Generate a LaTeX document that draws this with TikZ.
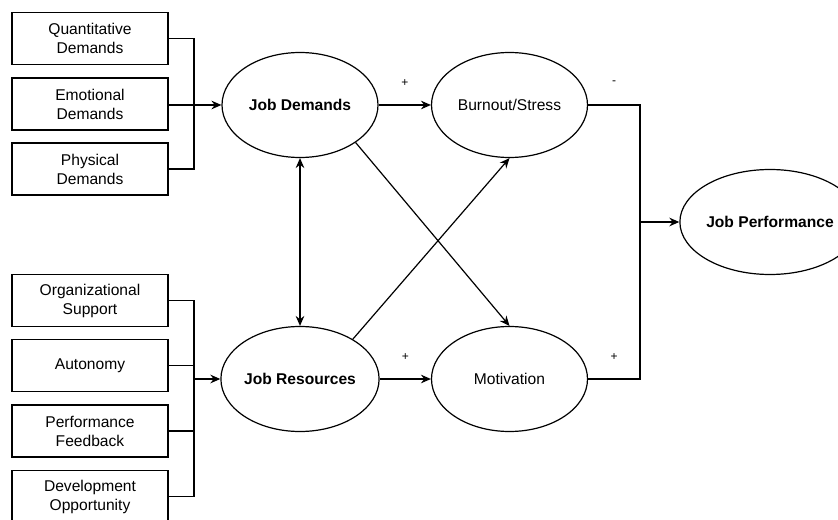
\documentclass[tikz,border=0pt]{standalone}
\usepackage{fontspec}
\setmainfont{Liberation Sans}
\usetikzlibrary{shapes.geometric,arrows.meta,calc}
\begin{document}
\begin{tikzpicture}[x=0.75pt,y=-0.75pt,
  txt/.style={font=\fontsize{11.7}{14.25}\selectfont},
  box/.style={txt, draw, line width=0.9pt, minimum width=117pt, minimum height=39pt, inner sep=0pt, align=center},
  ell/.style={txt, draw, ellipse, line width=0.9pt, minimum width=117pt, minimum height=78.75pt, inner sep=0pt},
  bell/.style={ell, font=\fontsize{11.7}{14.25}\selectfont\bfseries},
  line/.style={line width=0.9pt},
  conn/.style={line width=0.9pt, -{Stealth[length=7.5pt,width=6.5pt,inset=2.5pt]}},
  biconn/.style={line width=0.9pt, {Stealth[length=7.5pt,width=6.5pt,inset=2.5pt]}-{Stealth[length=7.5pt,width=6.5pt,inset=2.5pt]}},
  lbl/.style={font=\fontsize{9}{10}\selectfont, midway, yshift=16.5pt}]
\useasboundingbox (0,0) rectangle (838,520);
\clip (0,0) rectangle (838,520);

% left boxes
\node[box] (qd) at (90,38.5) {Quantitative\\Demands};
\node[box] (ed) at (90,104) {Emotional\\Demands};
\node[box] (pd) at (90,169) {Physical\\Demands};
\node[box] (os) at (90,300.5) {Organizational\\Support};
\node[box] (au) at (90,365.5) {Autonomy};
\node[box] (pf) at (90,431) {Performance\\Feedback};
\node[box] (dv) at (90,496.5) {Development\\Opportunity};

% ellipses
\node[bell] (jd) at (300,105) {Job Demands};
\node[bell] (jr) at (300,379) {Job Resources};
\node[ell] (bo) at (509.5,105) {Burnout/Stress};
\node[ell] (mo) at (509.5,379) {Motivation};
\node[bell] (jp) at (770,222) {Job Performance};

% junction columns
\coordinate (lx) at (194,0);
\coordinate (rx) at (640,0);

% demands -> job demands
\draw[line] (qd.east) -| (lx |- jd.west);
\draw[line] (pd.east) -| (lx |- jd.west);
\draw[conn] (ed.east |- jd.west) -- (jd.west);

% resources -> job resources
\draw[line] (os.east) -| (lx |- jr.west);
\draw[line] (au.east) -| (lx |- jr.west);
\draw[line] (pf.east) -| (lx |- jr.west);
\draw[line] (dv.east) -| (lx |- jr.west);
\draw[conn] (lx |- jr.west) -- (jr.west);

% main paths
\draw[conn] (jd.east) -- node[lbl] {+} (bo.west);
\draw[conn] (jr.east) -- node[lbl] {+} (mo.west);
\draw[biconn] (jd.south) -- (jr.north);
\draw[conn] (jd.-34) -- (mo.north);
\draw[conn] (jr.37) -- (bo.south);

% to job performance
\draw[line] (bo.east) -- node[lbl] {-} (rx |- bo.east) -- (rx |- jp.west);
\draw[line] (mo.east) -- node[lbl] {+} (rx |- mo.east) -- (rx |- jp.west);
\draw[conn] (rx |- jp.west) -- (jp.west);
\end{tikzpicture}
\end{document}
